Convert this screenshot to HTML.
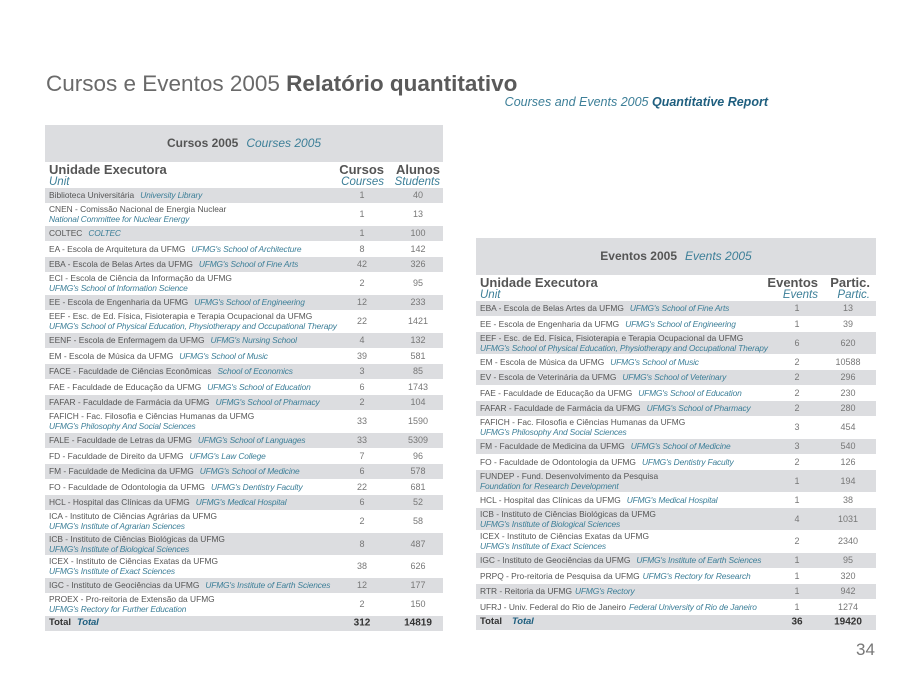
<!DOCTYPE html>
<html><head><meta charset="utf-8"><style>
body{margin:0;width:922px;height:676px;background:#fff;font-family:"Liberation Sans",sans-serif;position:relative;overflow:hidden;color:#555}
.t1{position:absolute;left:46px;top:71px;font-size:22.5px;color:#6a6a6a;white-space:nowrap}
.t1 b{color:#5a5a5a}
.t2{position:absolute;right:154px;top:95px;font-size:12.5px;color:#3d7f98;font-style:italic;white-space:nowrap}
.t2 b{color:#1f5f7f}
.tb{position:absolute}
.hd{background:#dcdde0;height:37px;text-align:center;line-height:37px;font-size:12px;font-weight:bold;color:#555}
.hd i{font-weight:normal;color:#3d7f98;margin-left:8px}
.ch{height:25px;position:relative}
.ch .u{position:absolute;left:4px;top:1px;font-size:13px;font-weight:bold;line-height:13px;color:#555}
.ch .u i,.ch .c i{display:block;font-weight:normal;font-size:11.5px;color:#3d7f98}
.ch .c{position:absolute;top:1px;font-size:13px;font-weight:bold;line-height:13px;text-align:right;color:#555}
.r{position:relative;font-size:8.4px;color:#555;border-top:1px solid #fff;box-sizing:border-box}
.r:nth-child(odd){background:#dcdde0}
.s{height:15.5px}.d{height:22.5px}
.r .l{position:absolute;left:4px;top:50%;transform:translateY(-50%);line-height:10px;white-space:nowrap}
.r i{color:#3d7f98;margin-left:6px;letter-spacing:-0.15px}
.d i{display:block;margin-left:0}
.r .n1,.r .n2{position:absolute;top:50%;transform:translateY(-50%);text-align:center;width:40px;color:#777;font-size:9px}
.tot{font-weight:bold;font-size:9.5px;color:#333}
.tot .n1,.tot .n2{color:#333;font-size:10px}
.tot i{color:#1f5f7f}
.pg{position:absolute;left:856px;top:640px;font-size:17px;color:#777}
</style></head><body>
<div class="t1">Cursos e Eventos 2005 <b>Relatório quantitativo</b></div>
<div class="t2">Courses and Events 2005 <b>Quantitative Report</b></div>

<div class="tb" style="left:45px;top:125px;width:398px">
<div class="hd">Cursos 2005<i>Courses 2005</i></div>
<div class="ch"><div class="u">Unidade Executora<i>Unit</i></div>
<div class="c" style="right:59px">Cursos<i>Courses</i></div>
<div class="c" style="right:3px">Alunos<i>Students</i></div></div>
<div class="rows" id="L">
<div class="r s"><span class="l">Biblioteca Universitária<i>University Library</i></span><span class="n1" style="left:297px">1</span><span class="n2" style="left:353px">40</span></div>
<div class="r d"><span class="l">CNEN - Comissão Nacional de Energia Nuclear<i>National Committee for Nuclear Energy</i></span><span class="n1" style="left:297px">1</span><span class="n2" style="left:353px">13</span></div>
<div class="r s"><span class="l">COLTEC<i>COLTEC</i></span><span class="n1" style="left:297px">1</span><span class="n2" style="left:353px">100</span></div>
<div class="r s"><span class="l">EA - Escola de Arquitetura da UFMG<i>UFMG's School of Architecture</i></span><span class="n1" style="left:297px">8</span><span class="n2" style="left:353px">142</span></div>
<div class="r s"><span class="l">EBA - Escola de Belas Artes da UFMG<i>UFMG's School of Fine Arts</i></span><span class="n1" style="left:297px">42</span><span class="n2" style="left:353px">326</span></div>
<div class="r d"><span class="l">ECI - Escola de Ciência da Informação da UFMG<i>UFMG's School of Information Science</i></span><span class="n1" style="left:297px">2</span><span class="n2" style="left:353px">95</span></div>
<div class="r s"><span class="l">EE - Escola de Engenharia da UFMG<i>UFMG's School of Engineering</i></span><span class="n1" style="left:297px">12</span><span class="n2" style="left:353px">233</span></div>
<div class="r d"><span class="l">EEF - Esc. de Ed. Física, Fisioterapia e Terapia Ocupacional da UFMG<i>UFMG's School of Physical Education, Physiotherapy and Occupational Therapy</i></span><span class="n1" style="left:297px">22</span><span class="n2" style="left:353px">1421</span></div>
<div class="r s"><span class="l">EENF - Escola de Enfermagem da UFMG<i>UFMG's Nursing School</i></span><span class="n1" style="left:297px">4</span><span class="n2" style="left:353px">132</span></div>
<div class="r s"><span class="l">EM - Escola de Música da UFMG<i>UFMG's School of Music</i></span><span class="n1" style="left:297px">39</span><span class="n2" style="left:353px">581</span></div>
<div class="r s"><span class="l">FACE - Faculdade de Ciências Econômicas<i>School of Economics</i></span><span class="n1" style="left:297px">3</span><span class="n2" style="left:353px">85</span></div>
<div class="r s"><span class="l">FAE - Faculdade de Educação da UFMG<i>UFMG's School of Education</i></span><span class="n1" style="left:297px">6</span><span class="n2" style="left:353px">1743</span></div>
<div class="r s"><span class="l">FAFAR - Faculdade de Farmácia da UFMG<i>UFMG's School of Pharmacy</i></span><span class="n1" style="left:297px">2</span><span class="n2" style="left:353px">104</span></div>
<div class="r d"><span class="l">FAFICH - Fac. Filosofia e Ciências Humanas da UFMG<i>UFMG's Philosophy And Social Sciences</i></span><span class="n1" style="left:297px">33</span><span class="n2" style="left:353px">1590</span></div>
<div class="r s"><span class="l">FALE - Faculdade de Letras da UFMG<i>UFMG's School of Languages</i></span><span class="n1" style="left:297px">33</span><span class="n2" style="left:353px">5309</span></div>
<div class="r s"><span class="l">FD - Faculdade de Direito da UFMG<i>UFMG's Law College</i></span><span class="n1" style="left:297px">7</span><span class="n2" style="left:353px">96</span></div>
<div class="r s"><span class="l">FM - Faculdade de Medicina da UFMG<i>UFMG's School of Medicine</i></span><span class="n1" style="left:297px">6</span><span class="n2" style="left:353px">578</span></div>
<div class="r s"><span class="l">FO - Faculdade de Odontologia da UFMG<i>UFMG's Dentistry Faculty</i></span><span class="n1" style="left:297px">22</span><span class="n2" style="left:353px">681</span></div>
<div class="r s"><span class="l">HCL - Hospital das Clínicas da UFMG<i>UFMG's Medical Hospital</i></span><span class="n1" style="left:297px">6</span><span class="n2" style="left:353px">52</span></div>
<div class="r d"><span class="l">ICA - Instituto de Ciências Agrárias da UFMG<i>UFMG's Institute of Agrarian Sciences</i></span><span class="n1" style="left:297px">2</span><span class="n2" style="left:353px">58</span></div>
<div class="r d"><span class="l">ICB - Instituto de Ciências Biológicas da UFMG<i>UFMG's Institute of Biological Sciences</i></span><span class="n1" style="left:297px">8</span><span class="n2" style="left:353px">487</span></div>
<div class="r d"><span class="l">ICEX - Instituto de Ciências Exatas da UFMG<i>UFMG's Institute of Exact Sciences</i></span><span class="n1" style="left:297px">38</span><span class="n2" style="left:353px">626</span></div>
<div class="r s"><span class="l">IGC - Instituto de Geociências da UFMG<i>UFMG's Institute of Earth Sciences</i></span><span class="n1" style="left:297px">12</span><span class="n2" style="left:353px">177</span></div>
<div class="r d"><span class="l">PROEX - Pro-reitoria de Extensão da UFMG<i>UFMG's Rectory for Further Education</i></span><span class="n1" style="left:297px">2</span><span class="n2" style="left:353px">150</span></div>
<div class="r s tot"><span class="l">Total<i>Total</i></span><span class="n1" style="left:297px">312</span><span class="n2" style="left:353px">14819</span></div>
</div></div>

<div class="tb" style="left:476px;top:238px;width:400px">
<div class="hd">Eventos 2005<i>Events 2005</i></div>
<div class="ch"><div class="u">Unidade Executora<i>Unit</i></div>
<div class="c" style="right:58px">Eventos<i>Events</i></div>
<div class="c" style="right:6px">Partic.<i>Partic.</i></div></div>
<div class="rows">
<div class="r s"><span class="l">EBA - Escola de Belas Artes da UFMG<i>UFMG's School of Fine Arts</i></span><span class="n1" style="left:301px">1</span><span class="n2" style="left:352px">13</span></div>
<div class="r s"><span class="l">EE - Escola de Engenharia da UFMG<i>UFMG's School of Engineering</i></span><span class="n1" style="left:301px">1</span><span class="n2" style="left:352px">39</span></div>
<div class="r d"><span class="l">EEF - Esc. de Ed. Física, Fisioterapia e Terapia Ocupacional da UFMG<i>UFMG's School of Physical Education, Physiotherapy and Occupational Therapy</i></span><span class="n1" style="left:301px">6</span><span class="n2" style="left:352px">620</span></div>
<div class="r s"><span class="l">EM - Escola de Música da UFMG<i>UFMG's School of Music</i></span><span class="n1" style="left:301px">2</span><span class="n2" style="left:352px">10588</span></div>
<div class="r s"><span class="l">EV - Escola de Veterinária da UFMG<i>UFMG's School of Veterinary</i></span><span class="n1" style="left:301px">2</span><span class="n2" style="left:352px">296</span></div>
<div class="r s"><span class="l">FAE - Faculdade de Educação da UFMG<i>UFMG's School of Education</i></span><span class="n1" style="left:301px">2</span><span class="n2" style="left:352px">230</span></div>
<div class="r s"><span class="l">FAFAR - Faculdade de Farmácia da UFMG<i>UFMG's School of Pharmacy</i></span><span class="n1" style="left:301px">2</span><span class="n2" style="left:352px">280</span></div>
<div class="r d"><span class="l">FAFICH - Fac. Filosofia e Ciências Humanas da UFMG<i>UFMG's Philosophy And Social Sciences</i></span><span class="n1" style="left:301px">3</span><span class="n2" style="left:352px">454</span></div>
<div class="r s"><span class="l">FM - Faculdade de Medicina da UFMG<i>UFMG's School of Medicine</i></span><span class="n1" style="left:301px">3</span><span class="n2" style="left:352px">540</span></div>
<div class="r s"><span class="l">FO - Faculdade de Odontologia da UFMG<i>UFMG's Dentistry Faculty</i></span><span class="n1" style="left:301px">2</span><span class="n2" style="left:352px">126</span></div>
<div class="r d"><span class="l">FUNDEP - Fund. Desenvolvimento da Pesquisa<i>Foundation for Research Development</i></span><span class="n1" style="left:301px">1</span><span class="n2" style="left:352px">194</span></div>
<div class="r s"><span class="l">HCL - Hospital das Clínicas da UFMG<i>UFMG's Medical Hospital</i></span><span class="n1" style="left:301px">1</span><span class="n2" style="left:352px">38</span></div>
<div class="r d"><span class="l">ICB - Instituto de Ciências Biológicas da UFMG<i>UFMG's Institute of Biological Sciences</i></span><span class="n1" style="left:301px">4</span><span class="n2" style="left:352px">1031</span></div>
<div class="r d"><span class="l">ICEX - Instituto de Ciências Exatas da UFMG<i>UFMG's Institute of Exact Sciences</i></span><span class="n1" style="left:301px">2</span><span class="n2" style="left:352px">2340</span></div>
<div class="r s"><span class="l">IGC - Instituto de Geociências da UFMG<i>UFMG's Institute of Earth Sciences</i></span><span class="n1" style="left:301px">1</span><span class="n2" style="left:352px">95</span></div>
<div class="r s"><span class="l">PRPQ - Pro-reitoria de Pesquisa da UFMG<i style="margin-left:3px">UFMG's Rectory for Research</i></span><span class="n1" style="left:301px">1</span><span class="n2" style="left:352px">320</span></div>
<div class="r s"><span class="l">RTR - Reitoria da UFMG<i style="margin-left:3px">UFMG's Rectory</i></span><span class="n1" style="left:301px">1</span><span class="n2" style="left:352px">942</span></div>
<div class="r s"><span class="l">UFRJ - Univ. Federal do Rio de Janeiro<i style="margin-left:3px">Federal University of Rio de Janeiro</i></span><span class="n1" style="left:301px">1</span><span class="n2" style="left:352px">1274</span></div>
<div class="r s tot"><span class="l">Total<i style="margin-left:10px">Total</i></span><span class="n1" style="left:301px">36</span><span class="n2" style="left:352px">19420</span></div>
</div></div>
<div class="pg">34</div>
</body></html>
